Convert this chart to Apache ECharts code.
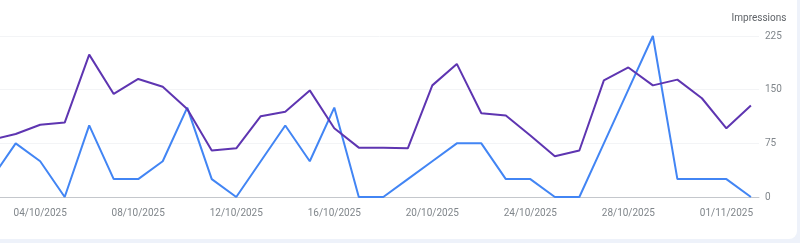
<!DOCTYPE html>
<html>
<head>
<meta charset="utf-8">
<script src="https://cdn.jsdelivr.net/npm/echarts@6/dist/echarts.min.js"></script>
<style>
  html, body { margin: 0; padding: 0; width: 800px; height: 243px; overflow: hidden; background: #eef2fa; }
  #card { position: absolute; left: -20px; top: -20px; width: 817px; height: 259px; background: #ffffff; border-radius: 8px; }
  #chart { position: absolute; left: 0; top: 0; width: 800px; height: 243px; }
</style>
</head>
<body>
<div id="card"></div>
<div id="chart"></div>
<script>
// Days from 02/10/2025 to 02/11/2025
const dates = ['02/10/2025','03/10/2025','04/10/2025','05/10/2025','06/10/2025','07/10/2025','08/10/2025','09/10/2025',
  '10/10/2025','11/10/2025','12/10/2025','13/10/2025','14/10/2025','15/10/2025','16/10/2025','17/10/2025',
  '18/10/2025','19/10/2025','20/10/2025','21/10/2025','22/10/2025','23/10/2025','24/10/2025','25/10/2025',
  '26/10/2025','27/10/2025','28/10/2025','29/10/2025','30/10/2025','31/10/2025','01/11/2025','02/11/2025'];
const impressionsPurple = [80, 88, 101, 104, 199, 144, 165, 154, 123, 65, 68, 113, 119, 149, 96, 69,
  69, 68, 156, 186, 117, 114, 86, 57, 65, 163, 181, 156, 164, 138, 96, 128];
const seriesBlue = [25, 75, 50, 0, 100, 25, 25, 50, 125, 25, 0, 50, 100, 50, 125, 0,
  0, 25, 50, 75, 75, 25, 25, 0, 0, 75, 150, 225, 25, 25, 25, 0];
const xLabelIndices = [2, 6, 10, 14, 18, 22, 26, 30];
const yTicks = [0, 75, 150, 225];
const yAxisName = 'Impressions';

const chart = echarts.init(document.getElementById('chart'), null, { renderer: 'canvas' });
const toPairs = arr => arr.map((v, i) => [i, v]);

chart.setOption({
  animation: false,
  backgroundColor: 'transparent',
  textStyle: { fontFamily: 'Roboto' },
  grid: { left: 0, right: 41, top: 36, bottom: 46, containLabel: false, outerBoundsMode: 'none' },
  xAxis: {
    type: 'value',
    min: 0.36,
    max: dates.length - 1 + 0.33,
    axisLine: { show: true, lineStyle: { color: '#c4c7cc', width: 1 } },
    axisTick: { show: false },
    splitLine: { show: false },
    axisLabel: {
      customValues: xLabelIndices,
      formatter: v => dates[Math.round(v)] || '',
      color: '#80868b',
      fontSize: 10,
      margin: 11,
      fontFamily: 'Roboto'
    }
  },
  yAxis: {
    type: 'value',
    position: 'right',
    min: yTicks[0],
    max: yTicks[yTicks.length - 1],
    interval: 75,
    name: yAxisName,
    nameLocation: 'end',
    nameGap: 13,
    nameTextStyle: { color: '#5f6368', fontSize: 10, align: 'center', fontFamily: 'Roboto' },
    axisLine: { show: false },
    axisTick: { show: false },
    splitLine: { show: true, lineStyle: { color: '#f3f4f6', width: 1 } },
    axisLabel: { color: '#80868b', fontSize: 10, margin: 6, fontFamily: 'Roboto' }
  },
  series: [
    {
      type: 'line',
      data: toPairs(seriesBlue),
      showSymbol: false,
      lineStyle: { color: '#4285f4', width: 2 },
      itemStyle: { color: '#4285f4' },
      z: 2
    },
    {
      type: 'line',
      data: toPairs(impressionsPurple),
      showSymbol: false,
      lineStyle: { color: '#5e35b1', width: 2 },
      itemStyle: { color: '#5e35b1' },
      z: 3
    }
  ]
});
</script>
</body>
</html>
